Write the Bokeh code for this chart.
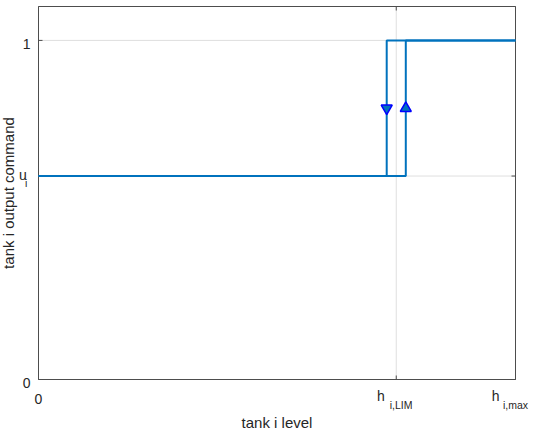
import math
from bokeh.plotting import figure
from bokeh.models import Range1d, Label
from bokeh.embed import file_html
from bokeh.resources import INLINE

# ---- data ----
x_lim = [0.0, 1.0]
y_lim = [0.0, 1.1]
x_ticks = [0.0, 0.75, 1.0]
x_tick_main = ["0", "h", "h"]
x_tick_sub = ["", "i,LIM", "i,max"]
y_ticks = [0.0, 0.6, 1.0]
y_tick_main = ["0", "u", "1"]
y_tick_sub = ["", "i", ""]
x_title = "tank i level"
y_title = "tank i output command"

rising_x = [0.0, 0.77, 0.77, 1.0]
rising_y = [0.6, 0.6, 1.0, 1.0]
falling_x = [1.0, 0.73, 0.73, 0.0]
falling_y = [1.0, 1.0, 0.6, 0.6]
arrow_down_x = [0.73]
arrow_up_x = [0.77]
arrow_y = [0.8]

# ---- layout (pixels) ----
W, H = 534, 430
M_LEFT, M_RIGHT, M_TOP, M_BOTTOM = 38, 19, 6, 51
FONT = "Liberation Sans"
TXT = "#262626"
AXC = "#4d4d4d"
LINE = "#0072BD"

sx = (W - M_LEFT - M_RIGHT) / (x_lim[1] - x_lim[0])
sy = (H - M_TOP - M_BOTTOM) / (y_lim[1] - y_lim[0])
x_range = Range1d(x_lim[0] - M_LEFT / sx, x_lim[1] + M_RIGHT / sx)
y_range = Range1d(y_lim[0] - M_BOTTOM / sy, y_lim[1] + M_TOP / sy)

p = figure(width=W, height=H, output_backend="svg", toolbar_location=None,
           x_range=x_range, y_range=y_range, x_axis_type=None, y_axis_type=None,
           min_border=0)
p.outline_line_color = None
p.background_fill_color = "white"
p.border_fill_color = "white"

# grid
p.segment(x0=x_ticks, y0=[y_lim[0]] * len(x_ticks), x1=x_ticks, y1=[y_lim[1]] * len(x_ticks),
          line_color="#dfdfdf", line_width=1)
p.segment(x0=[x_lim[0]] * len(y_ticks), y0=y_ticks, x1=[x_lim[1]] * len(y_ticks), y1=y_ticks,
          line_color="#dfdfdf", line_width=1)

# axes box
p.quad(left=[x_lim[0]], right=[x_lim[1]], bottom=[y_lim[0]], top=[y_lim[1]],
       fill_color=None, line_color=AXC, line_width=1)

# inward tick marks (bottom/top, left/right)
p.ray(x=x_ticks, y=[y_lim[0]] * len(x_ticks), length=4, length_units="screen",
      angle=90, angle_units="deg", line_color=AXC)
p.ray(x=x_ticks, y=[y_lim[1]] * len(x_ticks), length=4, length_units="screen",
      angle=-90, angle_units="deg", line_color=AXC)
p.ray(x=[x_lim[0]] * len(y_ticks), y=y_ticks, length=4, length_units="screen",
      angle=0, angle_units="deg", line_color=AXC)
p.ray(x=[x_lim[1]] * len(y_ticks), y=y_ticks, length=4, length_units="screen",
      angle=180, angle_units="deg", line_color=AXC)

# data
p.line(rising_x, rising_y, line_color=LINE, line_width=2)
p.line(falling_x, falling_y, line_color=LINE, line_width=2)
p.scatter(arrow_down_x, arrow_y, marker="inverted_triangle", size=11,
          fill_color=LINE, line_color="blue", line_width=1.5)
p.scatter(arrow_up_x, arrow_y, marker="triangle", size=11,
          fill_color=LINE, line_color="blue", line_width=1.5)

def lab(x, y, text, size, align, dx, dy, angle=0):
    p.add_layout(Label(x=x, y=y, text=text, x_offset=dx, y_offset=dy, angle=angle,
                       angle_units="deg", text_align=align, text_baseline="bottom",
                       text_font=FONT, text_font_size=size, text_color=TXT))

# x tick labels
x_main_dx = [0, -11.5, -16]
x_sub_dx = [0, -6.5, -12.5]
for t, m, s, dm, ds in zip(x_ticks, x_tick_main, x_tick_sub, x_main_dx, x_sub_dx):
    if s:
        lab(t, y_lim[0], m, "14px", "right", dm, -24.3)
        lab(t, y_lim[0], s, "10.5px", "left", ds, -31.7)
    else:
        lab(t, y_lim[0], m, "14px", "center", 0, -24.5)

# y tick labels
for t, m, s in zip(y_ticks, y_tick_main, y_tick_sub):
    if s:
        lab(x_lim[0], t, m, "14px", "right", -11.8, -6.5)
        lab(x_lim[0], t, s, "10.5px", "left", -13.4, -12.7)
    else:
        lab(x_lim[0], t, m, "14px", "right", -8, -8.5)

# axis titles
lab((x_lim[0] + x_lim[1]) / 2, y_lim[0], x_title, "15px", "center", 0, -51.4)
lab(x_lim[0], (y_lim[0] + y_lim[1]) / 2, y_title, "15px", "center", -21.8, 0, angle=90)

open("out.html", "w").write(file_html(p, INLINE))
